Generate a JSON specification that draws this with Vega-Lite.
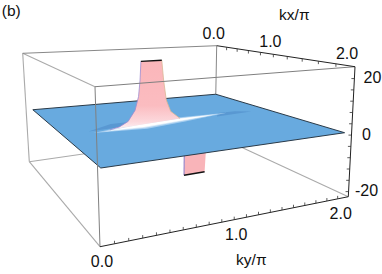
{"$schema":"https://vega.github.io/schema/vega-lite/v6.json","width":382,"height":274,"padding":0,"autosize":{"type":"none"},"background":"white","config":{"view":{"stroke":null}},
"data":{"values":[
{"p":"light","id":"a","o":0,"kx":0,"ky":0,"z":24.2},{"p":"light","id":"a","o":1,"kx":2,"ky":0,"z":24.2},
{"p":"light","id":"b","o":0,"kx":0,"ky":0,"z":24.2},{"p":"light","id":"b","o":1,"kx":0,"ky":0,"z":-21.8},
{"p":"light","id":"c","o":0,"kx":0,"ky":0,"z":-21.8},{"p":"light","id":"c","o":1,"kx":2,"ky":0,"z":-21.8},
{"p":"light","id":"d","o":0,"kx":0,"ky":0,"z":-21.8},{"p":"light","id":"d","o":1,"kx":0,"ky":2,"z":-21.8},
{"p":"light","id":"e","o":0,"kx":0,"ky":2,"z":-21.8},{"p":"light","id":"e","o":1,"kx":2,"ky":2,"z":-21.8},
{"p":"mid","id":"f","o":0,"kx":0,"ky":0,"z":24.2},{"p":"mid","id":"f","o":1,"kx":0,"ky":2,"z":24.2},
{"p":"mid","id":"g","o":0,"kx":0,"ky":2,"z":24.2},{"p":"mid","id":"g","o":1,"kx":0,"ky":2,"z":-21.8},
{"p":"neg","id":"n","o":0,"kx":1,"ky":1.12,"z":-21.8},{"p":"neg","id":"n","o":1,"kx":1,"ky":1.11,"z":0},{"p":"neg","id":"n","o":2,"kx":1,"ky":1.33,"z":0},{"p":"neg","id":"n","o":3,"kx":1,"ky":1.32,"z":-21.8},
{"p":"negL","id":"n","o":0,"kx":1,"ky":1.12,"z":-21.8},{"p":"negL","id":"n","o":1,"kx":1,"ky":1.11,"z":-8},
{"p":"surf","id":"s","o":0,"kx":0,"ky":0.06,"z":0},{"p":"surf","id":"s","o":1,"kx":0,"ky":2,"z":-0.8},{"p":"surf","id":"s","o":2,"kx":2,"ky":1.93,"z":1.2},{"p":"surf","id":"s","o":3,"kx":2,"ky":0.02,"z":0.7},
{"p":"dark","id":"d1","o":0,"kx":1.02,"ky":0.26,"z":0},{"p":"dark","id":"d1","o":1,"kx":0.86,"ky":0.5,"z":0},{"p":"dark","id":"d1","o":2,"kx":0.86,"ky":0.75,"z":0},{"p":"dark","id":"d1","o":3,"kx":0.97,"ky":0.7,"z":0},
{"p":"dark","id":"d2","o":0,"kx":1.0,"ky":1.42,"z":0},{"p":"dark","id":"d2","o":1,"kx":0.88,"ky":1.5,"z":0},{"p":"dark","id":"d2","o":2,"kx":0.88,"ky":1.68,"z":0},{"p":"dark","id":"d2","o":3,"kx":0.96,"ky":1.8,"z":0},
{"p":"halo","id":"h","o":0,"kx":1.08,"ky":0.28,"z":0},{"p":"halo","id":"h","o":1,"kx":0.93,"ky":0.7,"z":0},{"p":"halo","id":"h","o":2,"kx":0.88,"ky":1.1,"z":0},{"p":"halo","id":"h","o":3,"kx":0.9,"ky":1.58,"z":0},{"p":"halo","id":"h","o":4,"kx":1.04,"ky":1.1,"z":0},{"p":"halo","id":"h","o":5,"kx":1.14,"ky":0.7,"z":0},
{"p":"pale","id":"h","o":0,"kx":1.08,"ky":0.36,"z":0},{"p":"pale","id":"h","o":1,"kx":0.96,"ky":0.7,"z":0},{"p":"pale","id":"h","o":2,"kx":0.91,"ky":1.1,"z":0},{"p":"pale","id":"h","o":3,"kx":0.91,"ky":1.48,"z":0},{"p":"pale","id":"h","o":4,"kx":1.01,"ky":1.1,"z":0},{"p":"pale","id":"h","o":5,"kx":1.1,"ky":0.7,"z":0},
{"p":"white","id":"h","o":0,"kx":1.06,"ky":0.42,"z":0},{"p":"white","id":"h","o":1,"kx":0.985,"ky":0.7,"z":0},{"p":"white","id":"h","o":2,"kx":0.93,"ky":1.1,"z":0},{"p":"white","id":"h","o":3,"kx":0.93,"ky":1.42,"z":0},{"p":"white","id":"h","o":4,"kx":0.99,"ky":1.1,"z":0},{"p":"white","id":"h","o":5,"kx":1.07,"ky":0.7,"z":0},
{"p":"spike","side":"L","o":0,"kx":1,"ky":0.44,"z":-0.5},{"p":"spike","side":"L","o":1,"kx":1,"ky":0.52,"z":0.2},{"p":"spike","side":"L","o":2,"kx":1,"ky":0.594,"z":1.9},{"p":"spike","side":"L","o":3,"kx":1,"ky":0.652,"z":5.8},{"p":"spike","side":"L","o":4,"kx":1,"ky":0.68,"z":10.9},{"p":"spike","side":"L","o":5,"kx":1,"ky":0.69,"z":17.1},{"p":"spike","side":"L","o":6,"kx":1,"ky":0.694,"z":24.2},
{"p":"spike","side":"R","o":7,"kx":1,"ky":0.874,"z":24.2},{"p":"spike","side":"R","o":8,"kx":1,"ky":0.896,"z":16.5},{"p":"spike","side":"R","o":9,"kx":1,"ky":0.926,"z":8.7},{"p":"spike","side":"R","o":10,"kx":1,"ky":0.97,"z":4.1},{"p":"spike","side":"R","o":11,"kx":1,"ky":1.06,"z":0.9},
{"p":"cap","id":"c1","o":0,"kx":1,"ky":0.694,"z":24.2},{"p":"cap","id":"c1","o":1,"kx":1,"ky":0.874,"z":24.2},
{"p":"cap","id":"c2","o":0,"kx":1,"ky":1.12,"z":-21.8},{"p":"cap","id":"c2","o":1,"kx":1,"ky":1.32,"z":-21.8},
{"p":"front","id":"i","o":0,"kx":2,"ky":0,"z":24.2},{"p":"front","id":"i","o":1,"kx":2,"ky":2,"z":24.2},
{"p":"front","id":"j","o":0,"kx":2,"ky":0,"z":24.2},{"p":"front","id":"j","o":1,"kx":2,"ky":0,"z":-21.8},
{"p":"axis","id":"k","o":0,"kx":0,"ky":2,"z":24.2},{"p":"axis","id":"k","o":1,"kx":2,"ky":2,"z":24.2},
{"p":"axis","id":"l","o":0,"kx":2,"ky":0,"z":-21.8},{"p":"axis","id":"l","o":1,"kx":2,"ky":2,"z":-21.8},
{"p":"axis","id":"m","o":0,"kx":2,"ky":2,"z":24.2},{"p":"axis","id":"m","o":1,"kx":2,"ky":2,"z":-21.8},
{"p":"tx","kx":0.2,"ky":2,"z":24.2},{"p":"tx","kx":0.4,"ky":2,"z":24.2},{"p":"tx","kx":0.6,"ky":2,"z":24.2},{"p":"tx","kx":0.8,"ky":2,"z":24.2},{"p":"tx","kx":1.0,"ky":2,"z":24.2},{"p":"tx","kx":1.2,"ky":2,"z":24.2},{"p":"tx","kx":1.4,"ky":2,"z":24.2},{"p":"tx","kx":1.6,"ky":2,"z":24.2},{"p":"tx","kx":1.8,"ky":2,"z":24.2},
{"p":"ty","kx":2,"ky":0.1,"z":-21.8},{"p":"ty","kx":2,"ky":0.2,"z":-21.8},{"p":"ty","kx":2,"ky":0.3,"z":-21.8},{"p":"ty","kx":2,"ky":0.4,"z":-21.8},{"p":"ty","kx":2,"ky":0.5,"z":-21.8},{"p":"ty","kx":2,"ky":0.6,"z":-21.8},{"p":"ty","kx":2,"ky":0.7,"z":-21.8},{"p":"ty","kx":2,"ky":0.8,"z":-21.8},{"p":"ty","kx":2,"ky":0.9,"z":-21.8},{"p":"ty","kx":2,"ky":1.0,"z":-21.8},{"p":"ty","kx":2,"ky":1.1,"z":-21.8},{"p":"ty","kx":2,"ky":1.2,"z":-21.8},{"p":"ty","kx":2,"ky":1.3,"z":-21.8},{"p":"ty","kx":2,"ky":1.4,"z":-21.8},{"p":"ty","kx":2,"ky":1.5,"z":-21.8},{"p":"ty","kx":2,"ky":1.6,"z":-21.8},{"p":"ty","kx":2,"ky":1.7,"z":-21.8},{"p":"ty","kx":2,"ky":1.8,"z":-21.8},{"p":"ty","kx":2,"ky":1.9,"z":-21.8},
{"p":"tz","kx":2,"ky":2,"z":20},{"p":"tz","kx":2,"ky":2,"z":16},{"p":"tz","kx":2,"ky":2,"z":12},{"p":"tz","kx":2,"ky":2,"z":8},{"p":"tz","kx":2,"ky":2,"z":4},{"p":"tz","kx":2,"ky":2,"z":0},{"p":"tz","kx":2,"ky":2,"z":-4},{"p":"tz","kx":2,"ky":2,"z":-8},{"p":"tz","kx":2,"ky":2,"z":-12},{"p":"tz","kx":2,"ky":2,"z":-16},{"p":"tz","kx":2,"ky":2,"z":-20},
{"p":"lx","label":"0.0","kx":0,"ky":2,"z":24.2},{"p":"lx","label":"1.0","kx":1,"ky":2,"z":24.2},{"p":"lx","label":"2.0","kx":1.95,"ky":2,"z":24.2},
{"p":"ly","label":"0.0","kx":2,"ky":0,"z":-21.8},{"p":"ly","label":"1.0","kx":2,"ky":1,"z":-21.8},{"p":"ly","label":"2.0","kx":2,"ky":1.91,"z":-21.8},
{"p":"lz","label":"20","kx":2,"ky":2,"z":20},{"p":"lz","label":"0","kx":2,"ky":1.97,"z":0},{"p":"lz","label":"-20","kx":2,"ky":2,"z":-20},
{"p":"t","label":"kx/π","kx":1.28,"ky":2,"z":41.4},{"p":"t","label":"ky/π","kx":2,"ky":1.17,"z":-36.2},{"p":"t","label":"(b)","kx":0,"ky":-0.07,"z":42.2}
]},
"transform":[
{"calculate":"datum.kx/2","as":"X"},{"calculate":"datum.ky/2","as":"Y"},{"calculate":"(24.2-datum.z)/46","as":"W"},
{"calculate":"1-0.37697*datum.X+0.23146*datum.Y","as":"wt"},
{"calculate":"1-0.31696*datum.X+0.12078*datum.Y","as":"wb"},
{"calculate":"(36.49*datum.X+244.16*datum.Y+22.7)/datum.wt","as":"xt"},
{"calculate":"(0.72*datum.X+2.98*datum.Y+53.3)/datum.wt","as":"yt"},
{"calculate":"(39*datum.X+211.67*datum.Y+29.3)/datum.wb","as":"xb"},
{"calculate":"(6.81*datum.X-10.39*datum.Y+161.7)/datum.wb","as":"yb"},
{"calculate":"datum.xt+(datum.xb-datum.xt)*datum.W","as":"sx"},
{"calculate":"datum.yt+(datum.yb-datum.yt)*datum.W","as":"sy"}
],
"encoding":{
"x":{"field":"sx","type":"quantitative","scale":{"domain":[0,382],"range":[0,382]},"axis":null},
"y":{"field":"sy","type":"quantitative","scale":{"domain":[0,274],"range":[0,274]},"axis":null},
"order":{"field":"o","type":"quantitative"},
"detail":{"field":"id"}
},
"layer":[
{"transform":[{"filter":"datum.p==='light'"}],"mark":{"type":"line","stroke":"#aaaaaa","strokeWidth":1.1}},
{"transform":[{"filter":"datum.p==='mid'"}],"mark":{"type":"line","stroke":"#888888","strokeWidth":1}},
{"transform":[{"filter":"datum.p==='neg'"}],"mark":{"type":"line","interpolate":"linear-closed","fill":"#f9b4b9","stroke":null}},
{"transform":[{"filter":"datum.p==='negL'"}],"mark":{"type":"line","stroke":"#9a86c8","strokeWidth":1.2}},
{"transform":[{"filter":"datum.p==='surf'"}],"mark":{"type":"line","interpolate":"linear-closed","fill":"#68aadf","stroke":"#2a3a48","strokeWidth":1}},
{"transform":[{"filter":"datum.p==='dark'"}],"mark":{"type":"line","interpolate":"linear-closed","fill":"#4d89c6","stroke":null,"fillOpacity":0.55}},
{"transform":[{"filter":"datum.p==='halo'"}],"mark":{"type":"line","interpolate":"linear-closed","fill":"#a5cdef","stroke":null}},
{"transform":[{"filter":"datum.p==='pale'"}],"mark":{"type":"line","interpolate":"linear-closed","fill":"#dcecf9","stroke":null}},
{"transform":[{"filter":"datum.p==='white'"}],"mark":{"type":"line","interpolate":"linear-closed","fill":"#ffffff","stroke":null}},
{"transform":[{"filter":"datum.p==='spike'"}],"mark":{"type":"line","interpolate":"linear-closed","stroke":null,"fill":{"gradient":"linear","x1":0,"y1":0,"x2":0,"y2":1,"stops":[{"offset":0,"color":"#fbb6ba"},{"offset":0.65,"color":"#fbbcc0"},{"offset":0.88,"color":"#fcd8dc"},{"offset":1,"color":"#fdf3f7"}]}}},
{"transform":[{"filter":"datum.p==='spike'&&datum.side==='L'"}],"mark":{"type":"line","stroke":"#9d8bd0","strokeWidth":1,"strokeOpacity":0.8}},
{"transform":[{"filter":"datum.p==='spike'&&datum.side==='R'"}],"mark":{"type":"line","stroke":"#d9b896","strokeWidth":1,"strokeOpacity":0.8}},
{"transform":[{"filter":"datum.p==='cap'"}],"mark":{"type":"line","stroke":"#111111","strokeWidth":1.4}},
{"transform":[{"filter":"datum.p==='front'"}],"mark":{"type":"line","stroke":"#808080","strokeWidth":1}},
{"transform":[{"filter":"datum.p==='axis'"}],"mark":{"type":"line","stroke":"#222222","strokeWidth":1}},
{"transform":[{"filter":"datum.p==='tx'"}],"mark":{"type":"point","shape":"M0,0L0,1","size":36,"stroke":"#333333","strokeWidth":0.8,"filled":false,"opacity":1}},
{"transform":[{"filter":"datum.p==='ty'"}],"mark":{"type":"point","shape":"M0,0L0,-1","size":36,"stroke":"#333333","strokeWidth":0.8,"filled":false,"opacity":1}},
{"transform":[{"filter":"datum.p==='tz'"}],"mark":{"type":"point","shape":"M0,0L-1,0","size":36,"stroke":"#333333","strokeWidth":0.8,"filled":false,"opacity":1}},
{"transform":[{"filter":"datum.p==='lx'"}],"mark":{"type":"text","font":"Liberation Sans","fontSize":16,"align":"center","baseline":"middle","dx":-3,"dy":-12,"color":"#111111"},"encoding":{"text":{"field":"label"}}},
{"transform":[{"filter":"datum.p==='ly'"}],"mark":{"type":"text","font":"Liberation Sans","fontSize":16,"align":"center","baseline":"middle","dx":2,"dy":15,"color":"#111111"},"encoding":{"text":{"field":"label"}}},
{"transform":[{"filter":"datum.p==='lz'"}],"mark":{"type":"text","font":"Liberation Sans","fontSize":16,"align":"center","baseline":"middle","dx":18,"dy":-1,"color":"#111111"},"encoding":{"text":{"field":"label"}}},
{"transform":[{"filter":"datum.p==='t'"}],"mark":{"type":"text","font":"Liberation Sans","fontSize":15.5,"align":"center","baseline":"middle","color":"#111111"},"encoding":{"text":{"field":"label"}}}
]}
